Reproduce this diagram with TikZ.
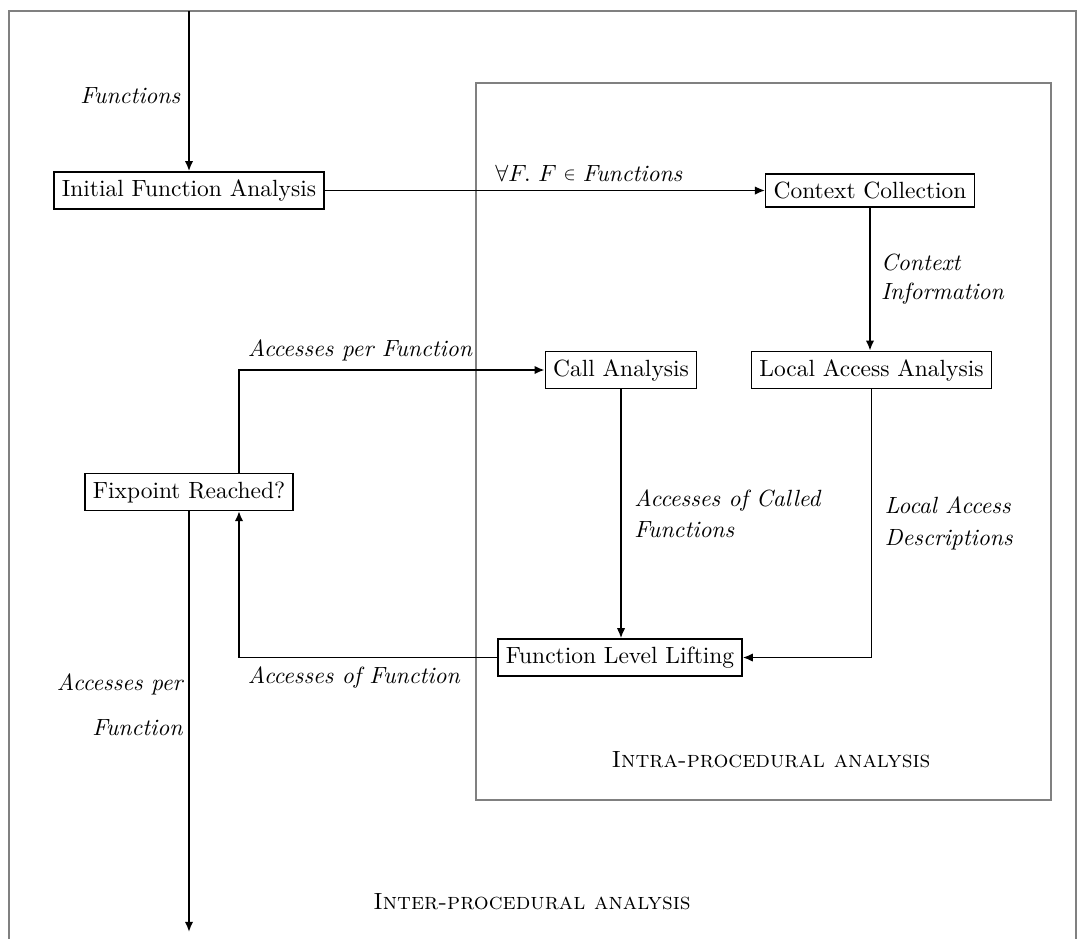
\documentclass[tikz,border=0pt]{standalone}
\usetikzlibrary{arrows.meta}
\begin{document}
\begin{tikzpicture}[x=0.4264pt,y=-0.4264pt,
  box/.style={draw,semithick,inner sep=0.3333em},
  arr/.style={thick,-{Latex[length=4.3pt,width=3.6pt]}},
  lbl/.style={font=\itshape},
  frame/.style={draw=gray,line width=0.8pt}]
\useasboundingbox (0,0) rectangle (1084,938);
% frames
\draw[frame] (9,11) rectangle (1076,946);
\draw[frame] (476,83) rectangle (1051,800);
% nodes
\node[box] (ifa) at (189,190.5) {Initial Function Analysis};
\node[box] (cc)  at (870,190.5) {Context Collection};
\node[box] (laa) at (871.5,370) {Local Access Analysis};
\node[box] (ca)  at (621,370) {Call Analysis};
\node[box] (fix) at (189,492) {Fixpoint Reached?};
\node[box] (fll) at (620,657.5) {Function Level Lifting};
\coordinate (in) at (189,11);
\coordinate (out) at (189,932);
\coordinate (lane) at (239,0);
\node (intra) at (771,760) {\textsc{Intra-procedural analysis}};
\node (inter) at (532,902) {\textsc{Inter-procedural analysis}};
% connectors
\draw[arr] (in) -- node[lbl,left,yshift=-2pt] (lfun) {Functions} (ifa.north);
\draw[arr] (ifa.east) -- node[above,pos=0.6] (lall) {$\forall F.\ F \mathrel{\vcenter{\hbox{$\scriptstyle\in$}}} \textit{Functions}$} (cc.west);
\draw[arr] (cc.south) -- node[lbl,right,align=left,xshift=1pt] (lci) {Context\\Information} (cc.south |- laa.north);
\draw[arr] (fix.north -| lane) |- node[lbl,above right,pos=0.5] (lapf) {Accesses per Function} (ca.west);
\draw[arr] (ca.south) -- node[lbl,right,align=left,xshift=2pt] (lacf) {Accesses of Called\\[1.5pt]Functions} (ca.south |- fll.north);
\draw[arr] (laa.south) |- node[lbl,right,align=left,pos=0.25,xshift=2pt] (llad) {Local Access\\[1.5pt]Descriptions} (fll.east);
\draw[arr] (fll.west) -| node[lbl,below right,pos=0.5] (laof) {Accesses of Function} (fix.south -| lane);
\draw[arr] (fix.south) -- node[lbl,left,align=right,pos=0.46,xshift=1pt] (lapf2) {Accesses per\\[7pt]Function} (out);
\end{tikzpicture}
\end{document}
